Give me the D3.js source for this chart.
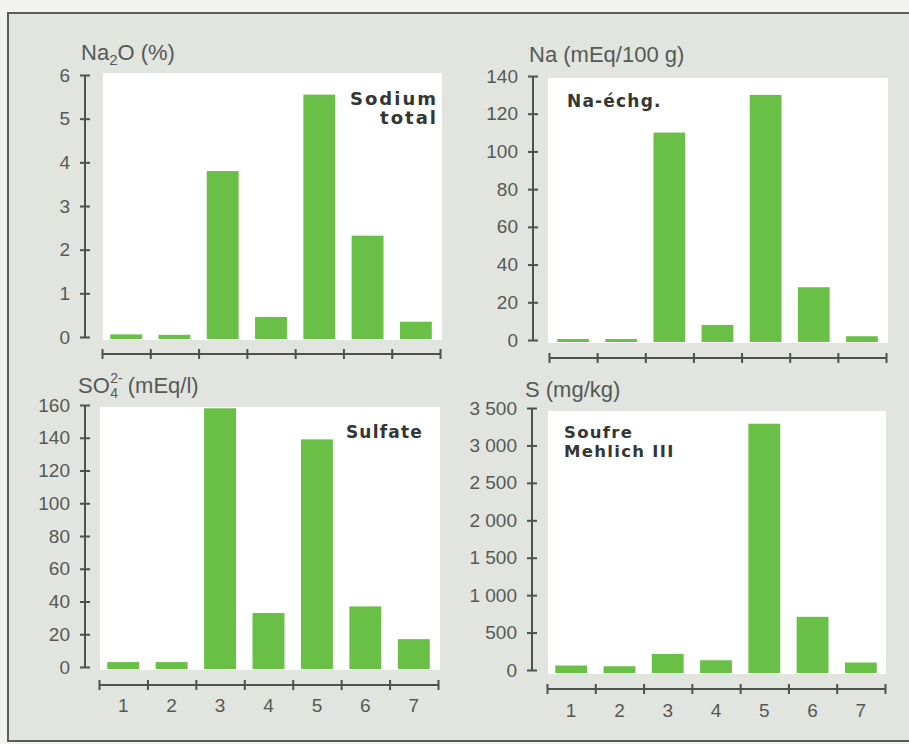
<!DOCTYPE html>
<html><head><meta charset="utf-8">
<script src="https://cdn.jsdelivr.net/npm/d3@7"></script>
<style>
html,body{margin:0;padding:0;background:#f2f3ef;}
svg{display:block;}
</style></head>
<body>
<script>
// ---- data ----
const categories = ["1","2","3","4","5","6","7"];
const na2oValues    = [0.06, 0.05, 3.8, 0.46, 5.55, 2.32, 0.35];
const naExchValues  = [0.5, 0.5, 110, 8, 130, 28, 2];
const sulfateValues = [3, 3, 158, 33, 139, 37, 17];
const soufreValues  = [60, 50, 215, 130, 3290, 710, 100];
const na2oTicks    = [0,1,2,3,4,5,6];
const naExchTicks  = [0,20,40,60,80,100,120,140];
const sulfateTicks = [0,20,40,60,80,100,120,140,160];
const soufreTicks  = [0,500,1000,1500,2000,2500,3000,3500];
const panelLabels = [["Sodium","total"],["Na-échg."],["Sulfate"],["Soufre","Mehlich III"]];

// ---- style ----
const W = 909, H = 744;
const BAR = "#6abf47", AX = "#4d524d", TXT = "#555a55", DARK = "#333633";
const TF = "'Liberation Sans', Arial, sans-serif";
const frLocale = d3.formatLocale({decimal:",", thousands:"\u00a0", grouping:[3], currency:["","€"]});
const fmtThousands = frLocale.format(",");

const svg = d3.select("body").append("svg").attr("width", W).attr("height", H);
svg.append("rect").attr("x",0).attr("y",0).attr("width",W).attr("height",H).attr("fill","#f2f3ef");
svg.append("rect").attr("x",8).attr("y",13).attr("width",W+20).attr("height",728)
  .attr("fill","#e1e4df").attr("stroke","#5a5e5a").attr("stroke-width",2);

const panels = [
  {values:na2oValues, ticks:na2oTicks, fmt:d3.format("d"), axisX:85, y0:337, yTop:75, xL:102, xR:440, xAxisY:354,
   rect:[103,73,442,340], title:"na2o", titleX:81, titleY:60, xLabels:false,
   label:panelLabels[0], labelX:438, labelY:105, anchor:"end", labelSize:18, labelSpacing:2, lineGap:19},
  {values:naExchValues, ticks:naExchTicks, fmt:d3.format("d"), axisX:533, y0:340, yTop:76, xL:549, xR:886, xAxisY:358,
   rect:[548,78,888,343], title:"na", titleX:529, titleY:62, xLabels:false,
   label:panelLabels[1], labelX:567, labelY:107, anchor:"start", labelSize:17, labelSpacing:1.2, lineGap:19},
  {values:sulfateValues, ticks:sulfateTicks, fmt:d3.format("d"), axisX:85, y0:667, yTop:405, xL:99, xR:438, xAxisY:685,
   rect:[100,407,440,670], title:"so4", titleX:78, titleY:393, xLabels:true, xLabelY:712,
   label:panelLabels[2], labelX:423, labelY:438, anchor:"end", labelSize:17, labelSpacing:1.2, lineGap:19},
  {values:soufreValues, ticks:soufreTicks, fmt:fmtThousands, axisX:532, y0:670, yTop:408, xL:547, xR:885, xAxisY:689,
   rect:[548,411,886,674], title:"s", titleX:525, titleY:397, xLabels:true, xLabelY:717,
   label:panelLabels[3], labelX:564, labelY:438, anchor:"start", labelSize:16.5, labelSpacing:1.3, lineGap:19}
];

panels.forEach(p => {
  const g = svg.append("g");
  g.append("rect").attr("x",p.rect[0]).attr("y",p.rect[1])
    .attr("width",p.rect[2]-p.rect[0]).attr("height",p.rect[3]-p.rect[1]).attr("fill","#ffffff");

  const y = d3.scaleLinear().domain([0, d3.max(p.ticks)]).range([p.y0, p.yTop]);
  const xb = d3.scaleBand().domain(categories).range([p.xL, p.xR]).paddingInner(0.34).paddingOuter(0.17);
  const xl = d3.scaleLinear().domain([0, categories.length]).range([p.xL, p.xR]);

  g.selectAll("rect.bar").data(p.values).join("rect").attr("class","bar")
    .attr("x",(d,i)=>xb(categories[i])).attr("width",xb.bandwidth())
    .attr("y",d=>y(d)).attr("height",d=>p.rect[3]-1-y(d)).attr("fill",BAR);

  const ya = g.append("g").attr("transform",`translate(${p.axisX},0)`)
    .call(d3.axisLeft(y).tickValues(p.ticks).tickFormat(p.fmt).tickSizeOuter(0).tickSize(5).tickPadding(10));
  ya.select(".domain").attr("stroke",AX).attr("stroke-width",2).attr("d",`M0,${p.y0}V${p.yTop}`);
  ya.selectAll(".tick line").attr("x1",-5).attr("x2",5).attr("stroke",AX).attr("stroke-width",2);
  ya.selectAll(".tick text").attr("fill",TXT).style("font-family",TF).style("font-size","19px");

  const xa = g.append("g").attr("transform",`translate(0,${p.xAxisY})`)
    .call(d3.axisBottom(xl).tickValues(d3.range(categories.length+1)).tickFormat("").tickSizeOuter(0).tickSize(5));
  xa.select(".domain").attr("stroke",AX).attr("stroke-width",2).attr("d",`M${p.xL},0H${p.xR}`);
  xa.selectAll(".tick line").attr("y1",-5).attr("y2",5).attr("stroke",AX).attr("stroke-width",2);

  if (p.xLabels) {
    g.selectAll("text.xl").data(categories).join("text").attr("class","xl")
      .attr("x",d=>xb(d)+xb.bandwidth()/2).attr("y",p.xLabelY).attr("text-anchor","middle")
      .attr("fill",TXT).style("font-family",TF).style("font-size","19px")
      .text(d=>d);
  }

  const t = g.append("text").attr("x",p.titleX).attr("y",p.titleY).attr("fill",TXT)
    .style("font-family",TF).style("font-size","22px");
  if (p.title === "na2o") {
    t.append("tspan").text("Na");
    t.append("tspan").attr("dy",5).style("font-size","15px").text("2");
    t.append("tspan").attr("dy",-5).text("O (%)");
  } else if (p.title === "na") {
    t.text("Na (mEq/100 g)");
  } else if (p.title === "so4") {
    t.append("tspan").text("SO");
    const wSO = t.node().getComputedTextLength();
    g.append("text").attr("x",p.titleX+wSO+0.5).attr("y",p.titleY-10).attr("fill",TXT)
      .style("font-family",TF).style("font-size","14px").text("2-");
    g.append("text").attr("x",p.titleX+wSO+0.5).attr("y",p.titleY+5).attr("fill",TXT)
      .style("font-family",TF).style("font-size","14px").text("4");
    g.append("text").attr("x",p.titleX+wSO+18).attr("y",p.titleY).attr("fill",TXT)
      .style("font-family",TF).style("font-size","22px").text("(mEq/l)");
  } else {
    t.text("S (mg/kg)");
  }

  const lt = g.append("text").attr("x",p.labelX).attr("y",p.labelY).attr("text-anchor",p.anchor)
    .attr("fill",DARK).style("font-family","'DejaVu Sans', sans-serif").style("font-weight","bold")
    .style("font-size",p.labelSize+"px").style("letter-spacing",p.labelSpacing+"px");
  p.label.forEach((s,i)=>{
    lt.append("tspan").attr("x",p.labelX).attr("dy", i===0?0:p.lineGap).text(s);
  });
});
</script>
</body></html>
